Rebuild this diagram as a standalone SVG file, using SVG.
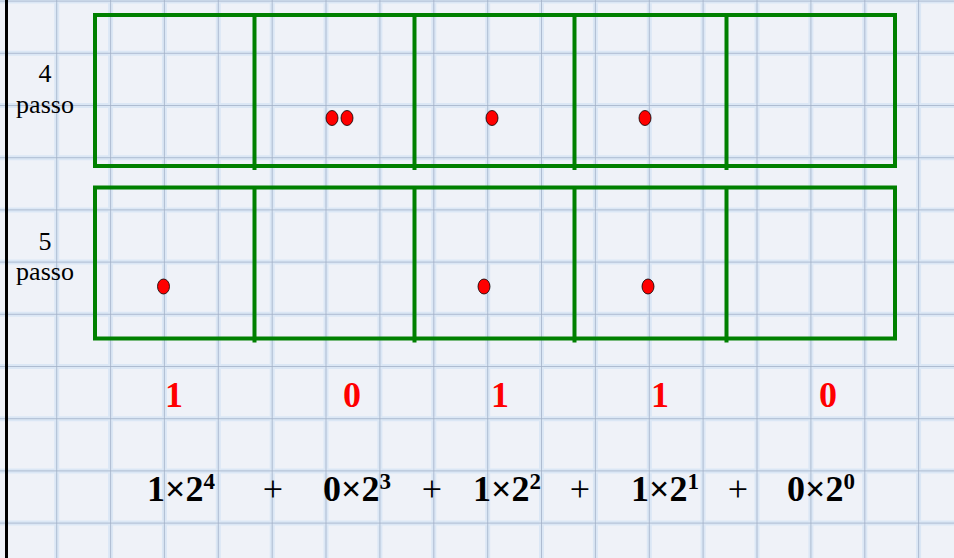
<svg xmlns="http://www.w3.org/2000/svg" width="954" height="558" viewBox="0 0 954 558">
<defs>
<style>
.glow{stroke:#dbe7f5;stroke-width:5;fill:none}
.gl{stroke:#a3b2c8;stroke-width:1;fill:none;opacity:0.8}
.box{fill:none;stroke:#008000;stroke-width:4}
.div{stroke:#008000;stroke-width:4}
.dot{fill:#ff0000;stroke:#000;stroke-width:0.8}
.lbl{font-family:"Liberation Serif","Times New Roman",serif;font-size:26px;fill:#000;text-anchor:middle}
.bit{font-family:"Liberation Serif","Times New Roman",serif;font-size:36px;font-weight:bold;fill:#ff0000;text-anchor:middle}
.term{font-family:"Liberation Serif","Times New Roman",serif;font-size:36px;font-weight:bold;fill:#000}
.plus{font-family:"Liberation Serif","Times New Roman",serif;font-size:36px;fill:#000;text-anchor:middle}
</style>
</defs>
<rect x="0" y="0" width="954" height="558" fill="#eff2f8"/>
<g id="grid">
<path class="glow" d="M56.7 0V558M110.6 0V558M164.4 0V558M218.3 0V558M272.2 0V558M326 0V558M379.9 0V558M433.8 0V558M487.7 0V558M541.5 0V558M595.4 0V558M649.3 0V558M703.1 0V558M757 0V558M810.9 0V558M864.8 0V558M918.6 0V558M0 1.1H954M0 53.3H954M0 105.5H954M0 157.7H954M0 209.9H954M0 262.1H954M0 314.3H954M0 366.5H954M0 418.7H954M0 470.9H954M0 523.1H954"/>
<path class="gl" d="M56.7 0V558M110.6 0V558M164.4 0V558M218.3 0V558M272.2 0V558M326 0V558M379.9 0V558M433.8 0V558M487.7 0V558M541.5 0V558M595.4 0V558M649.3 0V558M703.1 0V558M757 0V558M810.9 0V558M864.8 0V558M918.6 0V558M0 1.1H954M0 53.3H954M0 105.5H954M0 157.7H954M0 209.9H954M0 262.1H954M0 314.3H954M0 366.5H954M0 418.7H954M0 470.9H954M0 523.1H954"/>
</g>
<line x1="6.5" y1="0" x2="6.5" y2="558" stroke="#000" stroke-width="3"/>
<g id="labels">
<text class="lbl" x="45" y="82">4</text>
<text class="lbl" x="45" y="113">passo</text>
<text class="lbl" x="45" y="250">5</text>
<text class="lbl" x="45" y="280">passo</text>
</g>
<g id="row4">
<rect class="box" x="95" y="15" width="800" height="151"/>
<line class="div" x1="254.5" y1="15" x2="254.5" y2="170"/>
<line class="div" x1="414.5" y1="15" x2="414.5" y2="170"/>
<line class="div" x1="574.5" y1="15" x2="574.5" y2="170"/>
<line class="div" x1="726.5" y1="15" x2="726.5" y2="170"/>
<ellipse class="dot" cx="332" cy="118" rx="6" ry="7.5"/>
<ellipse class="dot" cx="347" cy="118" rx="6" ry="7.5"/>
<ellipse class="dot" cx="492" cy="118" rx="6" ry="7.5"/>
<ellipse class="dot" cx="645" cy="118" rx="6" ry="7.5"/>
</g>
<g id="row5">
<rect class="box" x="95" y="187.5" width="800" height="151"/>
<line class="div" x1="254.5" y1="187.5" x2="254.5" y2="342.5"/>
<line class="div" x1="414.5" y1="187.5" x2="414.5" y2="342.5"/>
<line class="div" x1="574.5" y1="187.5" x2="574.5" y2="342.5"/>
<line class="div" x1="726.5" y1="187.5" x2="726.5" y2="342.5"/>
<ellipse class="dot" cx="163.5" cy="286.5" rx="6" ry="7.5"/>
<ellipse class="dot" cx="484" cy="286.5" rx="6" ry="7.5"/>
<ellipse class="dot" cx="648" cy="286.5" rx="6" ry="7.5"/>
</g>
<g id="bits">
<text class="bit" x="174" y="407">1</text>
<text class="bit" x="352" y="407">0</text>
<text class="bit" x="500" y="407">1</text>
<text class="bit" x="660" y="407">1</text>
<text class="bit" x="828" y="407">0</text>
</g>
<g id="formula">
<text class="term" x="147" y="501">1×2<tspan font-size="23" dy="-12">4</tspan></text>
<text class="plus" x="273" y="501">+</text>
<text class="term" x="323" y="501">0×2<tspan font-size="23" dy="-12">3</tspan></text>
<text class="plus" x="432" y="501">+</text>
<text class="term" x="473" y="501">1×2<tspan font-size="23" dy="-12">2</tspan></text>
<text class="plus" x="580" y="501">+</text>
<text class="term" x="631" y="501">1×2<tspan font-size="23" dy="-12">1</tspan></text>
<text class="plus" x="738" y="501">+</text>
<text class="term" x="787" y="501">0×2<tspan font-size="23" dy="-12">0</tspan></text>
</g>
</svg>
